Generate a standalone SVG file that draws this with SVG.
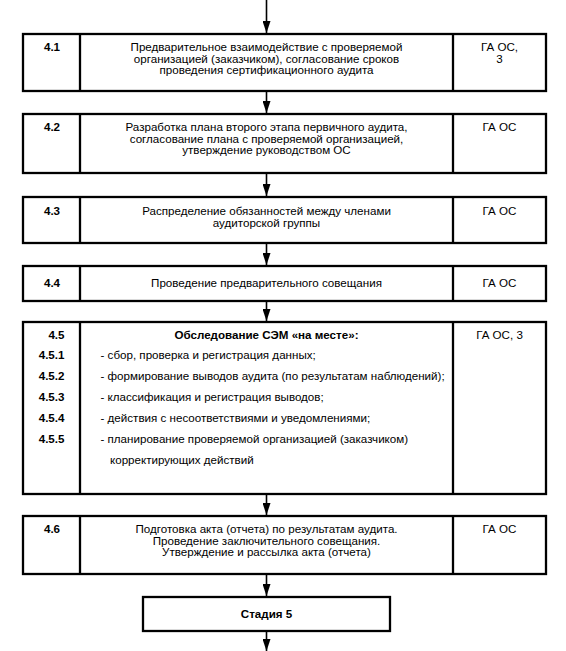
<svg xmlns="http://www.w3.org/2000/svg" width="566" height="651" viewBox="0 0 566 651">
<defs>
<marker id="ah" markerUnits="userSpaceOnUse" markerWidth="8" markerHeight="12" refX="4" refY="12" orient="0" viewBox="0 0 8 12">
<path d="M0,0 L8,0 L4,12 Z" fill="#000"/>
</marker>
<style>
.box{fill:#fff;stroke:#000;stroke-width:2.3}
.div{stroke:#000;stroke-width:2.3}
.con{stroke:#000;stroke-width:1.6;fill:none}
text{font-family:"Liberation Sans",Arial,sans-serif;font-size:11.6px;fill:#000}
.c{text-anchor:middle}
.n{text-anchor:middle;font-weight:bold}
.ne{text-anchor:end;font-weight:bold}
.b{font-weight:bold}
</style>
</defs>
<rect width="566" height="651" fill="#fff"/>

<g id="connectors">
<line class="con" x1="266.5" y1="0" x2="266.5" y2="33" marker-end="url(#ah)"/>
<line class="con" x1="266.5" y1="91" x2="266.5" y2="113" marker-end="url(#ah)"/>
<line class="con" x1="266.5" y1="173" x2="266.5" y2="196" marker-end="url(#ah)"/>
<line class="con" x1="266.5" y1="243" x2="266.5" y2="265" marker-end="url(#ah)"/>
<line class="con" x1="266.5" y1="301" x2="266.5" y2="321" marker-end="url(#ah)"/>
<line class="con" x1="266.5" y1="494" x2="266.5" y2="515" marker-end="url(#ah)"/>
<line class="con" x1="266.5" y1="574" x2="266.5" y2="596" marker-end="url(#ah)"/>
<line class="con" x1="266.5" y1="631" x2="266.5" y2="651" marker-end="url(#ah)"/>
</g>

<g id="n41">
<rect class="box" x="23" y="34" width="523" height="57"/>
<line class="div" x1="80" y1="34" x2="80" y2="91"/>
<line class="div" x1="453" y1="34" x2="453" y2="91"/>
<text class="n" x="52" y="51">4.1</text>
<text class="c" x="266.5" y="51">Предварительное взаимодействие с проверяемой</text>
<text class="c" x="266.5" y="62.5">организацией (заказчиком), согласование сроков</text>
<text class="c" x="266.5" y="74">проведения сертификационного аудита</text>
<text class="c" x="499.5" y="51">ГА ОС,</text>
<text class="c" x="499.5" y="62.5">3</text>
</g>

<g id="n42">
<rect class="box" x="23" y="114" width="523" height="59"/>
<line class="div" x1="80" y1="114" x2="80" y2="173"/>
<line class="div" x1="453" y1="114" x2="453" y2="173"/>
<text class="n" x="52" y="131">4.2</text>
<text class="c" x="266.5" y="131">Разработка плана второго этапа первичного аудита,</text>
<text class="c" x="266.5" y="142.5">согласование плана с проверяемой организацией,</text>
<text class="c" x="266.5" y="154">утверждение руководством ОС</text>
<text class="c" x="499.5" y="131">ГА ОС</text>
</g>

<g id="n43">
<rect class="box" x="23" y="197" width="523" height="46"/>
<line class="div" x1="80" y1="197" x2="80" y2="243"/>
<line class="div" x1="453" y1="197" x2="453" y2="243"/>
<text class="n" x="52" y="215">4.3</text>
<text class="c" x="266.5" y="215">Распределение обязанностей между членами</text>
<text class="c" x="266.5" y="227">аудиторской группы</text>
<text class="c" x="499.5" y="215">ГА ОС</text>
</g>

<g id="n44">
<rect class="box" x="23" y="266" width="523" height="35"/>
<line class="div" x1="80" y1="266" x2="80" y2="301"/>
<line class="div" x1="453" y1="266" x2="453" y2="301"/>
<text class="n" x="52" y="287">4.4</text>
<text class="c" x="266.5" y="287">Проведение предварительного совещания</text>
<text class="c" x="499.5" y="287">ГА ОС</text>
</g>

<g id="n45">
<rect class="box" x="23" y="322" width="523" height="172"/>
<line class="div" x1="80" y1="322" x2="80" y2="494"/>
<line class="div" x1="453" y1="322" x2="453" y2="494"/>
<text class="ne" x="64.5" y="339">4.5</text>
<text class="ne" x="64.5" y="359">4.5.1</text>
<text class="ne" x="64.5" y="380">4.5.2</text>
<text class="ne" x="64.5" y="401">4.5.3</text>
<text class="ne" x="64.5" y="422">4.5.4</text>
<text class="ne" x="64.5" y="443">4.5.5</text>
<text class="c b" x="266.5" y="339">Обследование СЭМ «на месте»:</text>
<text x="100.5" y="359">- сбор, проверка и регистрация данных;</text>
<text x="100.5" y="380">- формирование выводов аудита (по результатам наблюдений);</text>
<text x="100.5" y="401">- классификация и регистрация выводов;</text>
<text x="100.5" y="422">- действия с несоответствиями и уведомлениями;</text>
<text x="100.5" y="443">- планирование проверяемой организацией (заказчиком)</text>
<text x="110" y="464">корректирующих действий</text>
<text class="c" x="499.5" y="339">ГА ОС, 3</text>
</g>

<g id="n46">
<rect class="box" x="23" y="516" width="523" height="58"/>
<line class="div" x1="80" y1="516" x2="80" y2="574"/>
<line class="div" x1="453" y1="516" x2="453" y2="574"/>
<text class="n" x="52" y="533">4.6</text>
<text class="c" x="266.5" y="533">Подготовка акта (отчета) по результатам аудита.</text>
<text class="c" x="266.5" y="544.5">Проведение заключительного совещания.</text>
<text class="c" x="266.5" y="556">Утверждение и рассылка акта (отчета)</text>
<text class="c" x="499.5" y="533">ГА ОС</text>
</g>

<g id="stage5">
<rect class="box" x="143" y="597" width="247" height="34"/>
<text class="c b" x="266.5" y="618">Стадия 5</text>
</g>
</svg>
